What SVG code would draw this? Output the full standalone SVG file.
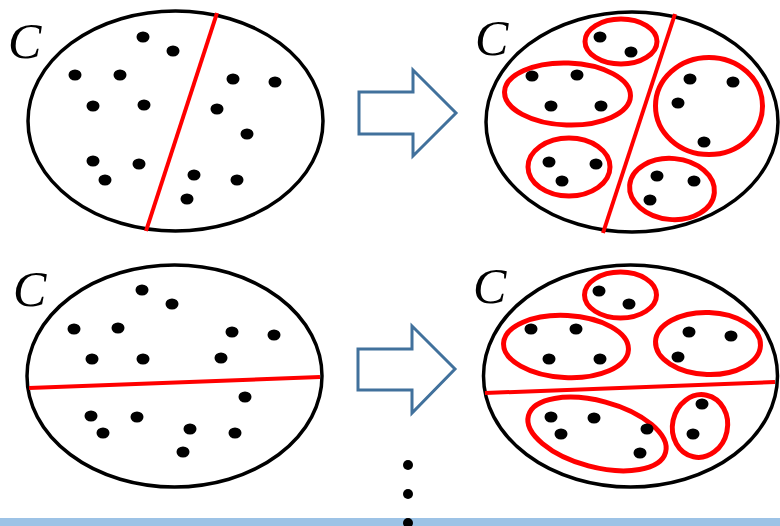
<svg xmlns="http://www.w3.org/2000/svg" width="780" height="526" viewBox="0 0 780 526">
<style>
.set{fill:none;stroke:#000;stroke-width:3.5}
.cut{stroke:#FF0000;stroke-width:4;stroke-linecap:butt}
.grp{fill:none;stroke:#FF0000;stroke-width:5}
.arrow{fill:#fff;stroke:#41719C;stroke-width:3;stroke-linejoin:miter}
.lbl{font-family:"Liberation Serif","Times New Roman",serif;font-style:italic;font-size:50px;fill:#000}
</style>
<defs>
<ellipse id="d" rx="6.5" ry="5.5" fill="#000"/>
</defs>
<rect x="0" y="0" width="780" height="526" fill="#fff"/>
<rect x="0" y="518" width="780" height="8" fill="#9DC3E6"/>

<g id="set-top-left">
<ellipse class="set" cx="175.5" cy="121" rx="147.5" ry="110"/>
<text class="lbl" x="8" y="58">C</text>
<line class="cut" x1="217" y1="13" x2="146" y2="231"/>
<use href="#d" x="143" y="37"/><use href="#d" x="173" y="51"/><use href="#d" x="75" y="75"/><use href="#d" x="120" y="75"/>
<use href="#d" x="233" y="79"/><use href="#d" x="275" y="82"/><use href="#d" x="93" y="106"/><use href="#d" x="144" y="105"/>
<use href="#d" x="217" y="109"/><use href="#d" x="247" y="134"/><use href="#d" x="93" y="161"/><use href="#d" x="139" y="164"/>
<use href="#d" x="105" y="180"/><use href="#d" x="194" y="175"/><use href="#d" x="237" y="180"/><use href="#d" x="187" y="199"/>
</g>

<g id="set-top-right">
<ellipse class="set" cx="632" cy="122" rx="146" ry="110"/>
<text class="lbl" x="475" y="55">C</text>
<line class="cut" x1="675" y1="14" x2="603" y2="233"/>
<ellipse class="grp" cx="621" cy="41.5" rx="36" ry="22.5"/>
<ellipse class="grp" cx="567.5" cy="94" rx="63" ry="31" transform="rotate(2 567.5 94)"/>
<ellipse class="grp" cx="569" cy="167" rx="41" ry="29"/>
<ellipse class="grp" cx="709" cy="106" rx="53.5" ry="48.5"/>
<ellipse class="grp" cx="672" cy="189" rx="42.5" ry="30.5" transform="rotate(5 672 189)"/>
<use href="#d" x="600" y="37"/><use href="#d" x="631" y="52"/>
<use href="#d" x="532" y="76"/><use href="#d" x="577" y="75"/><use href="#d" x="551" y="106"/><use href="#d" x="601" y="106"/>
<use href="#d" x="549" y="162"/><use href="#d" x="596" y="164"/><use href="#d" x="562" y="181"/>
<use href="#d" x="690" y="79"/><use href="#d" x="733" y="82"/><use href="#d" x="678" y="103"/><use href="#d" x="704" y="142"/>
<use href="#d" x="657" y="176"/><use href="#d" x="694" y="181"/><use href="#d" x="650" y="200"/>
</g>

<g id="set-bottom-left">
<ellipse class="set" cx="174.5" cy="376" rx="147.5" ry="111"/>
<text class="lbl" x="13" y="306">C</text>
<line class="cut" x1="29" y1="388" x2="320" y2="377"/>
<use href="#d" x="142" y="290"/><use href="#d" x="172" y="304"/><use href="#d" x="74" y="329"/><use href="#d" x="118" y="328"/>
<use href="#d" x="232" y="332"/><use href="#d" x="274" y="335"/><use href="#d" x="92" y="359"/><use href="#d" x="143" y="359"/>
<use href="#d" x="221" y="358"/><use href="#d" x="245" y="397"/><use href="#d" x="91" y="416"/><use href="#d" x="137" y="417"/>
<use href="#d" x="103" y="433"/><use href="#d" x="190" y="429"/><use href="#d" x="235" y="433"/><use href="#d" x="183" y="452"/>
</g>

<g id="set-bottom-right">
<ellipse class="set" cx="630.5" cy="376" rx="147" ry="111"/>
<text class="lbl" x="473" y="303">C</text>
<line class="cut" x1="485" y1="393" x2="775" y2="382"/>
<ellipse class="grp" cx="620.5" cy="295" rx="36" ry="23"/>
<ellipse class="grp" cx="566" cy="346.5" rx="62.5" ry="31" transform="rotate(3 566 346.5)"/>
<ellipse class="grp" cx="708" cy="343.5" rx="52.5" ry="31" transform="rotate(2 708 343.5)"/>
<ellipse class="grp" cx="597" cy="434" rx="71" ry="33" transform="rotate(15 597 434)"/>
<ellipse class="grp" cx="700" cy="426" rx="27.5" ry="31.5" transform="rotate(12 700 426)"/>
<use href="#d" x="599" y="291"/><use href="#d" x="629" y="304"/>
<use href="#d" x="531" y="329"/><use href="#d" x="576" y="329"/><use href="#d" x="549" y="359"/><use href="#d" x="600" y="359"/>
<use href="#d" x="689" y="332"/><use href="#d" x="731" y="336"/><use href="#d" x="678" y="357"/>
<use href="#d" x="551" y="417"/><use href="#d" x="594" y="418"/><use href="#d" x="561" y="434"/><use href="#d" x="647" y="429"/><use href="#d" x="640" y="453"/>
<use href="#d" x="702" y="404"/><use href="#d" x="693" y="434"/>
</g>

<g id="connectors">
<polygon class="arrow" points="359,92 413,92 413,70 456,113 413,156 413,134 359,134"/>
<polygon class="arrow" points="358,349 412,349 412,326 455,369 412,413 412,390 358,390"/>
</g>

<g id="ellipsis">
<circle cx="408" cy="465" r="5"/>
<circle cx="408" cy="494" r="5"/>
<circle cx="408" cy="523" r="5"/>
</g>
</svg>
